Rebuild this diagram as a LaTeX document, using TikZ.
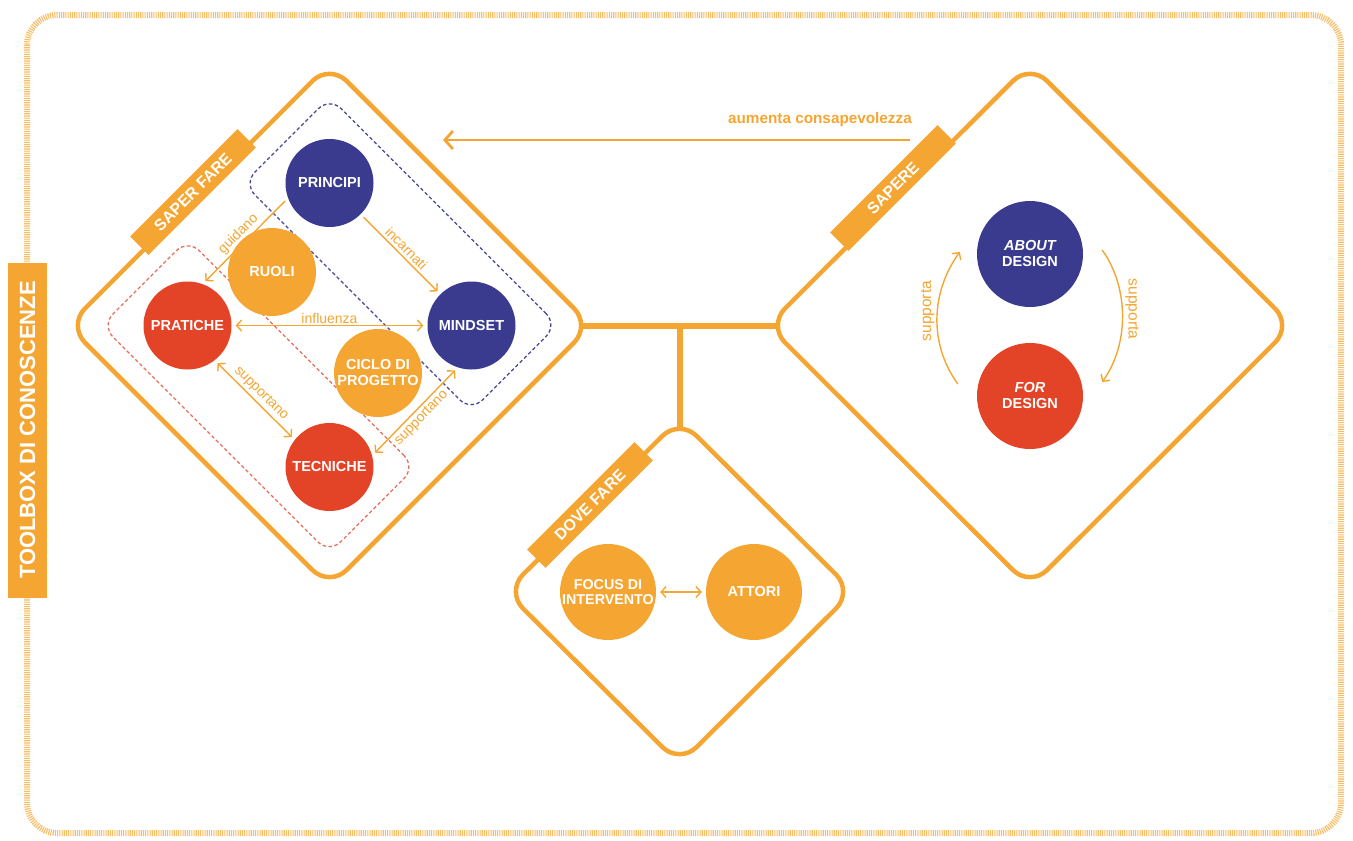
\documentclass[tikz,border=0pt]{standalone}
\usepackage{fontspec}
\setmainfont{Liberation Sans}
\usetikzlibrary{shapes.geometric,arrows.meta,calc}
\definecolor{cOr}{RGB}{245,166,50}
\definecolor{cNv}{RGB}{58,59,143}
\definecolor{cRd}{RGB}{227,67,38}
\definecolor{cRdL}{RGB}{232,110,90}
\definecolor{cNvL}{RGB}{70,72,150}
\pgfdeclarelayer{background}
\pgfsetlayers{background,main}
\begin{document}
\begin{tikzpicture}[x=1pt,y=-1pt,
  frame/.style={draw=cOr!75, line width=6pt, dash pattern=on 1.1pt off 1.1pt, rounded corners=30pt},
  dia/.style={diamond, draw=cOr, line width=4.5pt, fill=white, rounded corners=24pt, inner sep=0pt, aspect=1},
  conn/.style={draw=cOr, line width=6pt},
  tagbox/.style={fill=cOr, text=white, font=\bfseries\fontsize{16}{16}\selectfont, minimum width=152pt, minimum height=26pt, inner sep=0pt, rotate=45},
  tbtag/.style={fill=cOr, text=white, font=\bfseries\fontsize{22}{22}\selectfont, minimum width=335pt, minimum height=39pt, inner sep=0pt, rotate=90},
  region/.style={rectangle, rotate=-45, minimum width=322pt, minimum height=122pt, rounded corners=16pt, line width=1.3pt, dash pattern=on 3.5pt off 2.5pt},
  bubble/.style={circle, inner sep=0pt, minimum size=88pt, text=white, font=\bfseries\fontsize{14.5}{16}\selectfont, align=center},
  big/.style={bubble, minimum size=106pt},
  mid/.style={bubble, minimum size=96pt},
  thinarr/.style={draw=cOr, line width=1.4pt, shorten <=4pt, shorten >=4pt, -{Straight Barb[length=5pt,width=11pt]}},
  dblarr/.style={thinarr, {Straight Barb[length=5pt,width=11pt]}-{Straight Barb[length=5pt,width=11pt]}},
  lbl/.style={text=cOr, font=\fontsize{14}{14}\selectfont, inner sep=2.5pt},
  bigarr/.style={draw=cOr, line width=2.8pt, -{Straight Barb[length=8pt,width=18pt]}}
]
\useasboundingbox (0,0) rectangle (1353,841);

% outer frame and side tag
\draw[frame] (27,15) rectangle (1341,833);
\node[tbtag] (tb) at (27.5,430) {TOOLBOX DI CONOSCENZE};

% the three diamonds
\node[dia, minimum width=525pt, minimum height=525pt] (sf) at (329.5,325.5) {};
\node[dia, minimum width=526pt, minimum height=525pt] (sp) at (1030,325.5) {};
\node[dia, minimum width=349pt, minimum height=347pt] (df) at (679.5,591.5) {};

\begin{pgfonlayer}{background}
  \draw[conn] (sf.center) -- (sp.center);
  \draw[conn] (df.center) -- (df.center |- sf.center);
\end{pgfonlayer}

% tags on the diamonds
\node[tagbox] (tsf) at (193,192) {SAPER FARE};
\node[tagbox] (tsp) at (893,188) {SAPERE};
\node[tagbox] (tdf) at (590,505) {DOVE FARE};

% awareness arrow
\coordinate (aS) at (910,140);
\coordinate (aE) at (443,140);
\draw[bigarr] (aS) -- (aE);
\node[text=cOr, font=\bfseries\fontsize{15.3}{15.3}\selectfont, anchor=base east, inner sep=0pt] (alab) at (912,123) {aumenta consapevolezza};

% SAPER FARE content
\coordinate (cPR) at (329.5,183);
\coordinate (cMI) at (471.5,325.5);
\coordinate (cPA) at (187.5,325.5);
\coordinate (cTE) at (329.5,467);
\node[region, draw=cNvL] (rb) at ($(cPR)!0.5!(cMI)$) {};
\node[region, draw=cRdL] (rr) at ($(cPA)!0.5!(cTE)$) {};

\node[bubble, fill=cNv] (pr) at (cPR) {PRINCIPI};
\node[bubble, fill=cNv] (mi) at (cMI) {MINDSET};
\node[bubble, fill=cRd] (pa) at (cPA) {PRATICHE};
\node[bubble, fill=cRd] (te) at (cTE) {TECNICHE};
\node[bubble, fill=cOr] (ru) at (272,272) {RUOLI};
\node[bubble, fill=cOr] (ci) at (378,373) {CICLO DI\\PROGETTO};

\draw[thinarr] (pr.200) -- (pa.70) node[midway, sloped, above, lbl] {guidano};
\draw[thinarr] (pr) -- (mi) node[midway, sloped, above, lbl] {incarnati};
\draw[dblarr] (pa) -- (mi) node[midway, above, lbl, inner sep=1pt] {influenza};
\draw[dblarr] (pa.308) -- (te.142) node[midway, sloped, above, lbl] {supportano};
\draw[dblarr] (te.15) -- (mi.252) node[midway, sloped, below, lbl] {supportano};

% SAPERE content
\node[big, fill=cNv] (ad) at (1030,254) {{\itshape ABOUT}\\DESIGN};
\node[big, fill=cRd] (fd) at (1030,396) {{\itshape FOR}\\DESIGN};
\draw[thinarr, shorten <=0pt, shorten >=0pt] ([shift={(-19,-12)}]fd.west) .. controls +(-29,-40) and +(-29,40) .. ([shift={(-17,-2)}]ad.west)
  node[pos=0.55, rotate=90, anchor=south, lbl, font=\fontsize{15.5}{15.5}\selectfont] {supporta};
\draw[thinarr, shorten <=0pt, shorten >=0pt] ([shift={(19,-4)}]ad.east) .. controls +(27,38) and +(27,-38) .. ([shift={(19,-14)}]fd.east)
  node[pos=0.45, rotate=-90, anchor=south, lbl, font=\fontsize{15.5}{15.5}\selectfont] {supporta};

% DOVE FARE content
\node[mid, fill=cOr, font=\bfseries\fontsize{14.3}{15.5}\selectfont] (fo) at (608,592) {FOCUS DI\\INTERVENTO};
\node[mid, fill=cOr] (at) at (754,592) {ATTORI};
\draw[dblarr] (fo) -- (at);
\end{tikzpicture}
\end{document}
